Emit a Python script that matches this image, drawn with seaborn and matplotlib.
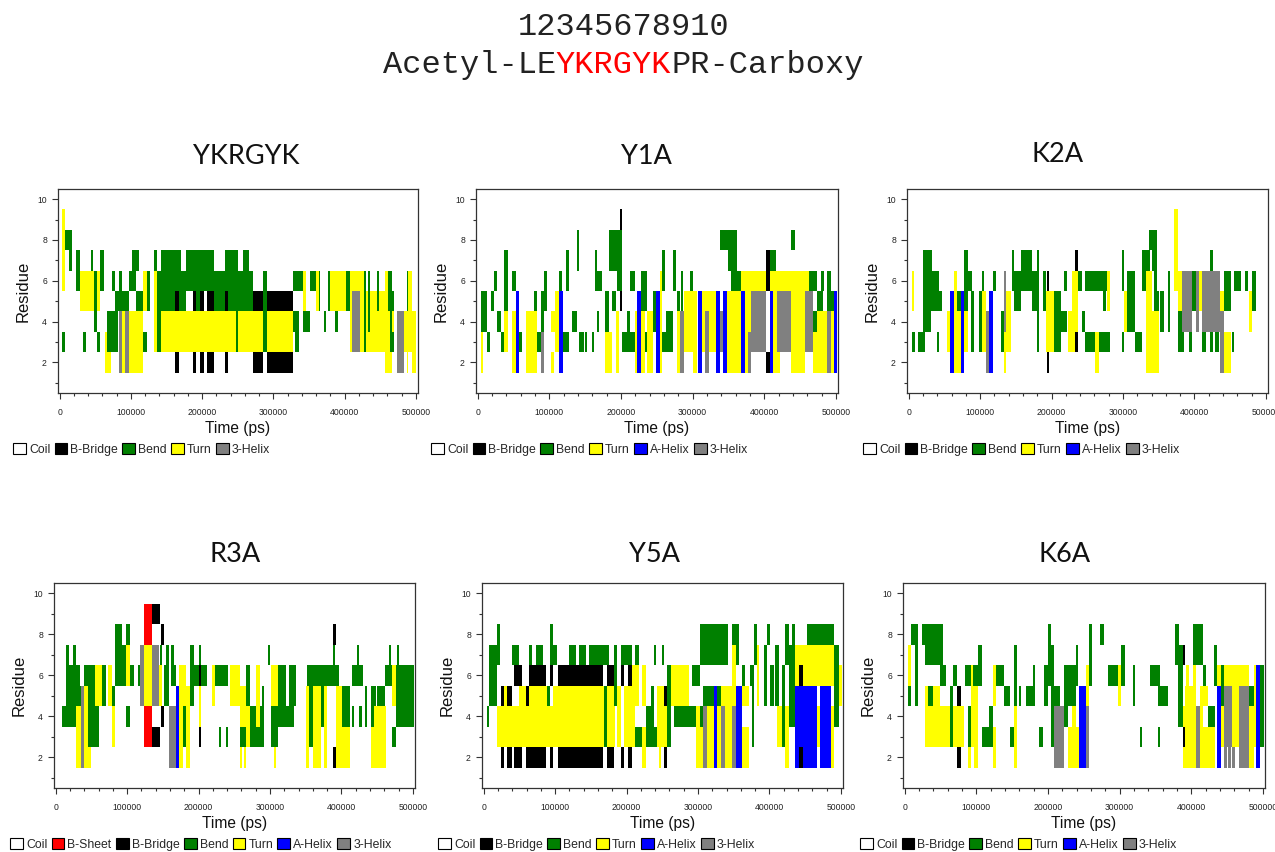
import numpy as np
import matplotlib
matplotlib.use("Agg")
import matplotlib.pyplot as plt
from matplotlib.colors import ListedColormap
from matplotlib.patches import Patch
from matplotlib.ticker import FixedLocator, NullFormatter
import seaborn as sns

# DSSP secondary-structure states, their one-letter codes and colours
STATES = ["Coil", "B-Sheet", "B-Bridge", "Bend", "Turn", "A-Helix", "3-Helix"]
CODES = ["C", "E", "B", "S", "T", "H", "G"]
COLORS = ["#ffffff", "#ff0000", "#000000", "#008000", "#ffff00", "#0000ff", "#808080"]

N_RES = 10
N_FRAMES = 505           # one frame per 1000 ps
X_TICKS_PS = [0, 100000, 200000, 300000, 400000, 500000]
Y_TICKS = [2, 4, 6, 8, 10]

HEADER_NUMBERS = "12345678910"
HEADER_SEQ = ["Acetyl-LE", "YKRGYK", "PR-Carboxy"]

# (residue, start [ns], end [ns], DSSP code); later entries paint over earlier ones
YKRGYK = [
    (9,3,8,"T"),(8,3,8,"T"),(7,3,8,"T"),(6,3,8,"T"),(3,3,8,"S"),
    (8,8,18,"S"),(7,13,18,"S"),(7,23,28,"S"),(6,23,28,"S"),
    (6,28,48,"T"),(5,28,48,"T"),(6,48,53,"S"),(5,48,53,"S"),(4,48,53,"S"),
    (6,53,57,"T"),(5,53,57,"T"),(3,33,37,"S"),(7,44,47,"S"),(3,53,57,"S"),
    (7,57,62,"S"),(6,57,62,"S"),(3,63,72,"T"),(2,63,72,"T"),
    (4,67,82,"S"),(3,67,82,"S"),(6,73,78,"S"),(6,84,88,"S"),(5,78,98,"S"),
    (4,84,88,"G"),(3,84,88,"G"),(2,84,88,"G"),
    (4,88,92,"T"),(3,88,92,"T"),(2,88,92,"T"),
    (4,92,97,"G"),(3,92,97,"G"),(2,92,97,"G"),
    (4,97,117,"T"),(3,97,117,"T"),(2,97,117,"T"),
    (6,98,107,"S"),(7,101,112,"S"),(5,107,117,"S"),
    (6,117,122,"T"),(5,117,122,"T"),(3,117,122,"S"),(6,123,127,"S"),(5,123,127,"S"),
    (7,133,136,"S"),(6,133,136,"T"),(5,133,136,"T"),(4,133,136,"T"),(3,133,136,"T"),
    (6,136,142,"S"),(5,136,142,"S"),(4,136,142,"S"),(3,136,142,"S"),
    (4,142,327,"T"),(3,142,327,"T"),(4,247,251,"S"),(3,247,251,"S"),
    (6,136,272,"S"),(7,142,171,"S"),(7,177,216,"S"),(7,232,251,"S"),(7,257,266,"S"),
    (5,142,162,"S"),(5,162,167,"B"),(5,167,177,"S"),
    (5,187,192,"B"),(5,192,197,"S"),(5,197,202,"B"),(5,207,216,"B"),
    (5,216,232,"S"),(5,232,237,"B"),(5,237,272,"S"),(5,272,327,"B"),
    (6,286,291,"S"),(5,286,291,"S"),(4,286,291,"S"),(3,286,291,"S"),
    (2,162,167,"B"),(2,187,192,"B"),(2,197,202,"B"),(2,207,216,"B"),(2,232,237,"B"),
    (2,272,286,"B"),(2,291,327,"B"),
    (6,327,341,"S"),(4,327,336,"S"),(3,331,336,"S"),
    (6,342,346,"T"),(5,342,346,"T"),(4,342,351,"S"),(6,351,360,"S"),
    (6,360,364,"T"),(5,360,364,"T"),(6,364,366,"S"),(5,364,366,"S"),(4,371,374,"S"),
    (6,376,380,"S"),(5,376,380,"S"),(6,380,402,"T"),(5,380,402,"T"),(4,387,391,"S"),
    (6,402,407,"S"),(5,402,407,"S"),
    (6,407,421,"T"),(5,407,410,"T"),(4,407,410,"T"),(3,407,410,"T"),
    (5,410,421,"G"),(4,410,421,"G"),(3,410,421,"G"),
    (5,421,470,"T"),(4,421,470,"T"),(3,421,470,"T"),(6,421,430,"T"),
    (6,427,430,"S"),(5,427,430,"S"),(4,427,430,"S"),(3,427,430,"S"),
    (6,433,436,"S"),(5,433,436,"S"),(4,433,436,"S"),(6,445,448,"S"),(5,445,448,"S"),
    (6,456,461,"T"),(2,456,467,"T"),
    (6,461,467,"S"),(5,461,470,"S"),(4,464,467,"S"),(3,464,470,"S"),
    (4,474,484,"G"),(3,474,484,"G"),(2,474,484,"G"),
    (4,484,500,"T"),(3,484,500,"T"),(2,487,489,"T"),(2,495,500,"T"),
    (6,487,489,"S"),(5,487,489,"S"),(6,489,495,"T"),(5,489,495,"T"),
]

Y1A = [
    (5,4,13,"S"),(4,4,13,"S"),(3,4,7,"T"),(2,4,7,"T"),(3,13,17,"S"),
    (5,18,23,"S"),(6,23,27,"S"),(4,27,33,"S"),(3,33,37,"S"),
    (7,37,42,"S"),(6,37,42,"S"),(5,37,42,"S"),(4,37,42,"T"),(3,37,42,"T"),
    (6,48,53,"S"),(4,48,53,"T"),(3,48,53,"T"),(2,48,53,"T"),
    (5,53,58,"H"),(4,53,58,"H"),(3,53,58,"H"),(2,53,58,"H"),(3,58,62,"S"),
    (4,68,83,"T"),(3,68,83,"T"),(2,68,83,"T"),(5,78,83,"S"),(3,83,88,"S"),
    (5,88,93,"S"),(4,88,93,"S"),(3,88,93,"G"),(2,88,93,"G"),
    (6,93,97,"S"),(5,93,97,"S"),
    (4,103,108,"T"),(2,103,106,"T"),(5,108,114,"T"),(4,108,114,"T"),(3,108,114,"T"),
    (5,114,119,"H"),(4,114,119,"H"),(3,114,119,"H"),(2,114,119,"H"),(6,114,118,"S"),
    (3,119,128,"S"),(7,123,128,"S"),(6,123,128,"S"),(4,132,139,"S"),
    (8,139,142,"S"),(7,139,142,"S"),(3,142,148,"S"),(3,150,153,"S"),(3,159,163,"S"),
    (7,164,167,"S"),(6,164,173,"S"),(4,167,170,"S"),
    (5,178,183,"S"),(4,178,183,"S"),(3,178,187,"T"),(2,178,187,"T"),
    (8,183,199,"S"),(7,183,199,"S"),(6,195,199,"S"),(5,188,193,"S"),
    (4,193,198,"T"),(3,193,198,"T"),(2,193,198,"T"),
    (9,199,202,"B"),(5,199,202,"B"),(8,199,202,"S"),(7,199,202,"S"),(6,199,202,"S"),
    (3,202,219,"S"),(4,209,212,"S"),(6,213,219,"S"),
    (4,219,222,"T"),(3,219,222,"T"),(2,219,222,"T"),
    (5,222,228,"H"),(4,222,228,"H"),(3,222,228,"H"),(2,222,228,"H"),
    (6,228,237,"S"),(5,228,237,"S"),(4,228,234,"T"),(3,228,234,"T"),(2,228,234,"T"),
    (3,234,237,"S"),(4,237,245,"T"),(3,237,245,"T"),(2,237,245,"T"),
    (5,245,249,"S"),(4,245,249,"S"),
    (5,249,254,"H"),(4,249,254,"H"),(3,249,254,"H"),(2,249,254,"H"),
    (6,254,258,"T"),(5,254,258,"T"),(4,254,258,"T"),(3,254,258,"T"),(2,254,258,"T"),
    (7,258,262,"S"),(6,258,262,"S"),(3,258,263,"S"),(4,263,272,"S"),(3,263,272,"S"),
    (7,272,277,"S"),(6,272,277,"S"),
    (4,278,283,"T"),(3,278,283,"T"),(2,278,283,"T"),(5,278,283,"S"),
    (4,283,288,"G"),(3,283,288,"G"),(2,283,288,"G"),(6,284,287,"S"),(5,284,287,"S"),
    (5,288,300,"T"),(4,288,300,"T"),(3,288,300,"T"),(6,296,300,"S"),
    (5,300,306,"T"),(4,300,306,"T"),(3,300,306,"T"),(2,300,306,"T"),
    (5,307,313,"H"),(4,307,313,"H"),(3,307,313,"H"),(2,307,313,"H"),
    (5,313,333,"T"),(4,313,333,"T"),(3,313,333,"T"),
    (4,318,323,"G"),(3,318,323,"G"),(2,318,323,"G"),
    (5,333,338,"H"),(4,333,338,"H"),(3,333,338,"H"),(2,333,338,"H"),
    (4,338,342,"G"),(3,338,342,"G"),
    (5,342,348,"H"),(4,342,348,"H"),(3,342,348,"H"),(2,342,348,"H"),
    (8,338,362,"S"),(7,350,362,"S"),
    (5,348,368,"T"),(4,348,368,"T"),(3,348,368,"T"),(2,348,368,"T"),(6,353,368,"S"),
    (5,368,373,"H"),(4,368,373,"H"),(3,368,373,"H"),(2,368,373,"H"),
    (6,368,463,"T"),
    (5,373,382,"T"),(4,373,382,"T"),(3,373,382,"T"),(2,373,382,"T"),
    (3,377,382,"G"),(2,377,382,"G"),
    (5,382,403,"G"),(4,382,403,"G"),(3,382,403,"G"),
    (7,403,408,"B"),(6,403,408,"B"),(2,403,408,"B"),(7,408,416,"S"),
    (5,408,412,"H"),(4,408,412,"H"),(3,408,412,"H"),(2,408,412,"H"),
    (5,412,418,"T"),(4,412,418,"T"),(3,412,418,"T"),(2,412,422,"T"),
    (5,418,438,"G"),(4,418,438,"G"),(3,418,438,"G"),(8,438,443,"S"),
    (5,438,457,"T"),(4,438,457,"T"),(3,438,457,"T"),(2,438,457,"T"),
    (5,457,468,"G"),(4,457,468,"G"),(3,457,468,"G"),(6,463,473,"S"),
    (4,468,473,"S"),(3,468,473,"T"),(2,468,473,"T"),
    (4,473,487,"T"),(3,473,487,"T"),(2,473,487,"T"),(5,473,482,"S"),(6,479,483,"S"),
    (4,487,493,"G"),(3,487,493,"G"),(2,487,493,"G"),(6,487,493,"S"),(5,487,493,"S"),
    (4,493,498,"T"),(3,493,498,"T"),(2,493,498,"T"),(5,493,498,"S"),
    (5,498,502,"H"),(4,498,502,"H"),(3,498,502,"H"),(2,498,502,"H"),
]

K2A = [
    (6,4,8,"T"),(5,4,8,"T"),(3,4,9,"S"),(3,13,23,"S"),
    (7,20,32,"S"),(6,20,43,"S"),(5,20,43,"S"),(4,20,31,"S"),(3,39,43,"S"),(5,43,47,"S"),
    (4,54,58,"T"),(3,54,58,"T"),
    (5,58,63,"H"),(4,58,63,"H"),(3,58,63,"H"),(2,58,63,"H"),
    (6,63,67,"T"),(5,63,67,"T"),(4,63,67,"T"),(3,63,67,"T"),(2,63,67,"T"),
    (4,67,73,"T"),(3,67,73,"T"),(2,67,73,"T"),(5,68,73,"S"),
    (5,73,78,"H"),(4,73,78,"H"),(3,73,78,"H"),(2,73,78,"H"),
    (7,78,83,"S"),(6,78,88,"S"),(5,78,83,"S"),(4,78,83,"T"),(3,78,83,"T"),
    (5,87,92,"S"),(4,87,92,"S"),(3,87,92,"S"),
    (5,98,102,"S"),(4,98,102,"S"),(3,98,102,"S"),
    (6,102,106,"S"),(5,102,108,"T"),(4,102,108,"T"),(3,102,108,"T"),
    (4,108,112,"G"),(3,108,112,"G"),(2,108,112,"G"),
    (5,112,118,"H"),(4,112,118,"H"),(3,112,118,"H"),(2,112,118,"H"),
    (6,118,122,"S"),(4,129,133,"S"),(3,129,133,"S"),
    (6,133,136,"G"),(5,133,136,"G"),(4,133,136,"G"),(3,133,136,"T"),(2,133,136,"T"),
    (5,136,143,"T"),(4,136,143,"T"),(3,136,143,"T"),
    (7,144,147,"S"),(6,144,147,"S"),(6,147,157,"S"),(5,147,157,"S"),
    (7,157,172,"S"),(6,157,172,"S"),(6,172,179,"S"),(5,172,179,"S"),
    (7,179,182,"S"),(6,179,182,"S"),(5,179,182,"S"),(4,179,182,"S"),(3,179,182,"S"),
    (6,188,192,"S"),(5,188,192,"S"),
    (5,192,203,"T"),(4,192,203,"T"),(3,192,203,"T"),(6,193,197,"B"),(2,193,197,"B"),
    (5,203,213,"S"),(4,203,213,"S"),(3,203,213,"S"),(4,213,222,"S"),(6,217,222,"S"),
    (4,223,233,"T"),(3,223,233,"T"),(6,228,233,"T"),(5,228,233,"T"),
    (7,233,237,"B"),(3,233,237,"B"),(6,233,237,"T"),(5,233,237,"T"),(4,233,237,"T"),
    (6,237,242,"S"),(4,243,247,"S"),(3,247,261,"S"),(6,247,277,"S"),
    (3,261,267,"T"),(2,261,267,"T"),(3,267,282,"S"),(5,272,276,"S"),
    (6,278,282,"T"),(5,278,282,"T"),
    (7,298,302,"S"),(6,298,302,"S"),(3,298,302,"S"),(5,302,306,"T"),(4,302,306,"T"),
    (6,306,317,"S"),(5,306,317,"S"),(4,306,317,"S"),(3,317,327,"S"),
    (7,327,338,"S"),(6,327,332,"S"),
    (6,332,340,"T"),(5,332,341,"T"),(4,332,341,"T"),(3,332,341,"T"),(2,332,341,"T"),
    (8,337,347,"S"),(7,340,347,"S"),
    (4,341,351,"T"),(3,341,351,"T"),(2,341,351,"T"),(5,343,351,"S"),(6,343,347,"S"),
    (5,352,357,"S"),(4,352,357,"S"),(6,363,366,"S"),(5,363,366,"S"),(4,363,366,"S"),
    (9,372,377,"T"),(8,372,377,"T"),(7,372,377,"T"),(6,372,377,"T"),
    (6,377,382,"T"),(5,377,382,"T"),(4,377,386,"S"),(3,377,386,"S"),
    (6,382,396,"G"),(5,382,396,"G"),(4,382,396,"G"),(3,392,396,"S"),
    (6,396,402,"S"),(5,396,402,"S"),
    (6,402,407,"G"),(5,402,407,"G"),(4,402,407,"G"),(6,407,411,"T"),(5,407,411,"T"),
    (6,411,436,"G"),(5,411,436,"G"),(4,411,436,"G"),
    (7,422,426,"S"),(3,411,416,"S"),(3,422,426,"S"),(3,429,434,"S"),
    (5,436,442,"T"),(4,436,442,"G"),(3,436,442,"G"),(2,436,442,"G"),
    (6,442,451,"S"),(5,442,451,"S"),(3,442,451,"T"),(2,442,451,"T"),
    (3,452,455,"S"),(6,456,465,"S"),(6,471,475,"S"),
    (5,477,481,"T"),(4,477,481,"T"),(6,481,486,"S"),(5,481,486,"S"),
]

R3A = [
    (4,9,14,"S"),
    (7,14,19,"S"),(6,14,19,"S"),(5,14,19,"S"),(4,14,19,"S"),
    (6,19,24,"S"),(5,19,24,"S"),(4,19,24,"S"),
    (7,24,29,"S"),(6,24,34,"S"),(5,24,29,"S"),(4,24,29,"S"),
    (5,29,35,"S"),(4,29,35,"T"),(3,29,35,"T"),(2,29,35,"T"),
    (5,35,39,"G"),(4,35,39,"G"),(3,35,39,"G"),(2,35,39,"G"),
    (5,39,45,"T"),(4,39,45,"T"),(3,39,45,"T"),(2,39,45,"T"),(6,39,45,"S"),
    (6,45,55,"S"),(5,45,55,"S"),(4,45,55,"S"),(3,45,55,"S"),(2,45,50,"T"),
    (6,55,65,"T"),(5,55,65,"T"),(4,55,60,"S"),(3,55,60,"S"),
    (6,65,70,"S"),(5,65,70,"S"),(6,73,79,"T"),(5,73,79,"T"),
    (5,79,83,"S"),(4,79,83,"T"),(3,79,83,"T"),
    (8,83,93,"S"),(7,83,93,"S"),(6,83,93,"S"),(7,93,99,"S"),(6,93,99,"S"),
    (8,99,104,"S"),(7,99,104,"T"),(6,99,104,"T"),(4,99,104,"S"),(6,104,109,"S"),
    (6,115,118,"S"),(7,118,124,"G"),(6,118,124,"G"),(5,118,124,"G"),
    (9,124,135,"E"),(8,124,135,"E"),(4,124,135,"E"),(3,124,135,"E"),
    (7,124,135,"T"),(6,124,135,"T"),(5,124,135,"T"),
    (7,135,144,"G"),(6,135,144,"G"),(5,135,144,"G"),(9,135,146,"B"),(3,135,146,"B"),
    (6,144,149,"T"),(5,144,149,"T"),(7,146,149,"S"),(8,148,151,"B"),(4,148,151,"B"),
    (6,151,159,"S"),(5,151,159,"S"),(7,155,158,"S"),
    (4,159,168,"G"),(3,159,168,"G"),(2,159,168,"G"),(7,162,166,"S"),(6,162,168,"S"),
    (5,168,172,"H"),(4,168,172,"H"),(3,168,172,"H"),(2,168,172,"H"),
    (6,172,178,"T"),(5,172,178,"T"),(4,172,178,"T"),(3,172,178,"T"),(2,172,178,"T"),
    (4,178,183,"S"),(3,178,183,"S"),(6,178,183,"T"),(5,178,183,"T"),
    (5,183,188,"T"),(4,183,188,"T"),(3,183,188,"T"),(2,183,188,"T"),
    (7,188,194,"S"),(6,188,194,"S"),(5,188,194,"S"),(6,194,200,"S"),
    (6,200,204,"B"),(3,200,204,"B"),(7,200,204,"S"),(5,200,204,"T"),(4,200,204,"T"),
    (6,204,212,"S"),(6,219,223,"T"),(5,219,223,"T"),(6,223,241,"S"),
    (3,228,232,"S"),(3,238,241,"S"),(6,244,258,"T"),(5,244,258,"T"),
    (5,258,267,"T"),(4,258,267,"T"),(3,258,267,"S"),(2,258,261,"T"),(2,264,267,"T"),
    (6,267,272,"S"),(5,267,272,"S"),(4,267,272,"T"),(3,267,272,"T"),
    (4,272,292,"S"),(3,272,292,"S"),(6,281,286,"T"),(5,281,286,"T"),(4,281,286,"T"),
    (5,289,292,"S"),(7,297,300,"S"),
    (6,302,311,"T"),(5,302,311,"T"),(4,302,311,"S"),(3,302,311,"S"),(2,306,309,"T"),
    (6,311,322,"S"),(5,311,322,"S"),(4,311,334,"S"),(6,327,336,"S"),(5,327,336,"S"),
    (5,350,355,"T"),(4,350,355,"T"),(3,350,355,"T"),(2,350,355,"T"),(6,352,380,"S"),
    (5,355,360,"S"),(4,355,360,"S"),(3,355,360,"S"),
    (5,360,371,"T"),(4,360,371,"T"),(3,360,371,"T"),(2,360,371,"T"),
    (5,371,376,"S"),(4,371,376,"S"),
    (5,376,380,"T"),(4,376,380,"T"),(3,376,380,"T"),(2,376,380,"T"),
    (6,380,397,"S"),(7,388,391,"S"),(8,388,392,"B"),(2,388,392,"B"),
    (5,392,401,"T"),(4,392,401,"T"),(3,392,412,"T"),(2,392,412,"T"),
    (5,401,412,"S"),(4,401,412,"S"),(6,415,430,"S"),(4,415,418,"S"),(7,422,425,"S"),
    (4,425,429,"S"),(5,433,436,"S"),(4,433,436,"S"),
    (5,441,448,"S"),(4,441,445,"S"),(4,445,462,"T"),(3,441,462,"T"),(2,441,462,"T"),
    (5,450,461,"S"),(6,461,471,"S"),(6,471,476,"T"),(5,471,476,"T"),(3,471,476,"S"),
    (6,476,502,"S"),(5,476,502,"S"),(4,476,502,"S"),(7,466,469,"S"),(7,478,480,"S"),
]

Y5A = [
    (4,4,7,"S"),(7,7,18,"S"),(6,7,18,"S"),(5,7,18,"S"),(8,18,23,"S"),(7,18,23,"S"),
    (4,19,169,"T"),(3,19,169,"T"),
    (5,24,29,"B"),(2,24,29,"B"),(5,29,33,"T"),(5,33,39,"B"),(2,33,39,"B"),
    (7,39,49,"S"),(6,43,53,"B"),(2,43,53,"B"),(5,49,59,"T"),
    (5,59,63,"B"),(2,59,87,"B"),(6,63,87,"B"),(5,63,88,"T"),(7,63,67,"S"),(7,73,83,"S"),
    (5,89,93,"S"),(8,93,97,"S"),(7,93,102,"S"),(6,93,97,"B"),(2,93,97,"B"),(5,97,103,"T"),
    (5,103,168,"T"),(6,104,167,"B"),(2,104,167,"B"),
    (7,119,129,"S"),(7,133,143,"S"),(7,148,157,"S"),(7,157,176,"S"),
    (5,169,173,"S"),(4,169,173,"S"),(3,169,173,"S"),
    (5,173,184,"T"),(4,173,184,"T"),(3,173,184,"T"),(6,173,183,"B"),(2,173,183,"B"),
    (7,183,187,"S"),(6,183,187,"S"),(5,183,187,"S"),
    (5,187,192,"T"),(4,187,192,"T"),(3,187,192,"T"),(6,192,197,"B"),(2,192,197,"B"),
    (7,192,208,"S"),(5,197,208,"T"),(4,197,208,"T"),(3,197,208,"T"),
    (6,202,208,"B"),(2,202,208,"B"),
    (6,208,218,"T"),(5,208,218,"T"),(4,208,212,"T"),(3,208,212,"T"),(7,212,218,"S"),
    (3,212,222,"S"),(6,222,227,"T"),(5,222,227,"T"),(3,222,227,"T"),(2,222,227,"T"),
    (4,227,238,"S"),(3,227,243,"S"),(5,234,239,"S"),(7,238,241,"S"),
    (5,243,253,"T"),(4,243,253,"T"),(3,243,253,"T"),(2,245,248,"T"),(7,249,253,"S"),
    (5,253,257,"B"),(2,253,257,"B"),(4,253,257,"T"),(3,253,257,"T"),
    (6,257,262,"S"),(5,257,262,"S"),(4,257,262,"S"),(3,257,262,"S"),
    (6,262,287,"T"),(5,262,287,"T"),(4,267,297,"S"),(6,292,303,"S"),
    (4,297,303,"T"),(3,297,303,"T"),(2,297,303,"T"),
    (8,303,342,"S"),(7,303,342,"S"),(4,303,307,"S"),(3,303,307,"T"),(2,303,307,"T"),
    (4,307,312,"G"),(3,307,312,"G"),(2,307,312,"G"),(5,307,322,"S"),
    (4,312,322,"T"),(3,312,322,"T"),(2,312,322,"T"),
    (5,322,327,"H"),(4,322,327,"H"),(3,322,327,"H"),(2,322,327,"H"),
    (4,327,332,"T"),(3,327,332,"T"),(2,327,332,"T"),(5,327,332,"S"),
    (4,332,338,"G"),(3,332,338,"G"),(2,332,338,"G"),(5,332,338,"T"),
    (5,338,348,"T"),(4,338,348,"T"),(3,338,348,"T"),(2,338,348,"T"),
    (4,348,353,"G"),(3,348,353,"G"),(2,348,353,"G"),(7,348,353,"T"),(6,348,353,"T"),
    (5,348,353,"T"),(8,348,357,"S"),(7,353,357,"S"),
    (5,353,362,"H"),(4,353,362,"H"),(3,353,362,"H"),(2,353,362,"H"),
    (6,362,366,"S"),(5,362,372,"T"),(3,362,372,"T"),(2,362,372,"T"),
    (6,373,378,"S"),(5,376,378,"S"),(4,376,378,"S"),(3,376,378,"S"),
    (8,379,382,"S"),(7,379,382,"S"),(7,382,385,"T"),(6,382,385,"T"),(5,382,385,"T"),
    (7,392,397,"S"),(6,392,397,"S"),(5,392,397,"S"),(8,397,401,"S"),
    (6,401,406,"S"),(5,401,406,"S"),(7,408,413,"S"),(6,408,413,"S"),(5,408,413,"S"),
    (4,410,417,"T"),(3,410,417,"T"),
    (6,417,422,"S"),(5,417,422,"S"),(4,417,422,"S"),(3,417,422,"S"),
    (4,422,427,"T"),(3,422,427,"T"),(2,422,427,"T"),(8,422,427,"S"),(7,422,427,"S"),
    (7,427,436,"S"),(6,427,436,"S"),(5,427,436,"S"),(4,427,436,"S"),(8,431,436,"S"),
    (7,436,452,"T"),(6,436,452,"T"),
    (5,436,441,"H"),(4,436,441,"H"),(3,436,441,"H"),(2,436,441,"H"),
    (6,441,447,"B"),(2,441,447,"B"),(5,441,447,"H"),(4,441,447,"H"),(3,441,447,"H"),
    (5,447,466,"H"),(4,447,466,"H"),(3,447,466,"H"),(2,447,466,"H"),
    (8,452,491,"S"),(7,452,491,"T"),(6,452,491,"T"),(4,466,471,"T"),(3,466,471,"T"),
    (5,471,486,"H"),(4,471,486,"H"),(3,471,486,"H"),(2,471,486,"H"),
    (4,486,491,"T"),(3,486,491,"T"),(2,486,491,"T"),
    (7,491,497,"S"),(6,491,497,"S"),(5,491,497,"S"),(4,491,497,"S"),
    (6,497,502,"T"),(5,497,502,"T"),
]

K6A = [
    (7,5,9,"T"),(6,5,9,"T"),(5,5,9,"S"),
    (8,9,19,"S"),(7,14,19,"S"),(6,14,19,"S"),(5,14,19,"S"),(8,24,54,"S"),(7,29,54,"S"),
    (5,29,33,"T"),(4,29,33,"T"),(3,29,33,"T"),(5,33,39,"S"),(4,33,39,"T"),(3,33,39,"T"),
    (5,39,49,"T"),(4,39,49,"T"),(3,39,49,"T"),(6,49,58,"S"),(4,49,64,"T"),(3,49,64,"T"),
    (5,64,68,"S"),(4,64,68,"S"),(3,64,68,"S"),(6,68,73,"S"),(4,68,73,"T"),(3,68,73,"T"),
    (5,73,79,"B"),(2,73,79,"B"),(4,73,83,"T"),(3,73,83,"T"),(6,84,99,"S"),
    (4,89,93,"S"),(3,89,93,"S"),(2,89,93,"T"),
    (6,93,96,"T"),(5,93,103,"T"),(4,93,103,"T"),(3,93,103,"T"),(2,97,103,"T"),
    (6,99,108,"S"),(7,103,108,"S"),(3,108,124,"S"),(4,118,124,"S"),
    (6,124,128,"T"),(5,124,128,"T"),(3,124,128,"T"),(2,124,128,"T"),
    (6,128,138,"S"),(5,138,147,"S"),(3,147,153,"S"),
    (4,153,157,"T"),(3,153,157,"T"),(2,153,157,"T"),(7,153,157,"S"),(6,153,157,"S"),
    (5,153,157,"S"),(5,159,163,"S"),(5,169,182,"S"),(6,179,182,"S"),(3,188,193,"S"),
    (6,194,200,"S"),(5,194,200,"S"),(8,200,204,"S"),(7,200,204,"S"),(6,200,204,"S"),
    (7,204,208,"S"),(6,204,208,"S"),(5,204,208,"S"),(4,204,208,"S"),(3,204,208,"S"),
    (4,208,223,"G"),(3,208,223,"G"),(2,208,223,"G"),(5,208,217,"S"),
    (6,223,239,"S"),(5,223,239,"S"),(4,223,228,"S"),
    (3,228,243,"T"),(2,228,243,"T"),(4,233,239,"T"),(7,239,242,"S"),(6,239,242,"S"),
    (5,243,253,"H"),(4,243,253,"H"),(3,243,253,"H"),(2,243,253,"H"),
    (6,253,257,"T"),(5,253,257,"T"),(4,253,257,"G"),(3,253,257,"G"),(2,253,257,"G"),
    (8,257,262,"S"),(7,257,262,"S"),(6,257,262,"S"),(8,273,278,"S"),(6,284,298,"S"),
    (6,298,302,"T"),(5,298,302,"T"),(7,302,308,"S"),(6,302,308,"S"),
    (6,319,322,"S"),(5,319,322,"S"),(3,328,331,"S"),
    (6,342,357,"S"),(5,353,367,"S"),(3,354,357,"S"),(8,377,383,"S"),(7,377,383,"S"),
    (7,381,388,"S"),(6,381,388,"S"),(5,381,388,"S"),(4,381,388,"S"),
    (7,388,392,"B"),(3,388,392,"B"),(4,388,392,"T"),(2,388,392,"T"),
    (5,392,402,"T"),(4,392,402,"T"),(3,392,402,"T"),(2,392,402,"T"),(6,393,397,"T"),
    (8,402,417,"S"),(7,402,417,"S"),
    (5,402,407,"T"),(4,402,407,"T"),(3,402,407,"T"),(2,402,407,"T"),(6,403,407,"T"),
    (4,407,412,"G"),(3,407,412,"G"),(2,407,412,"G"),
    (5,412,423,"T"),(4,412,417,"T"),(3,412,423,"T"),(2,412,423,"T"),(6,417,420,"S"),
    (4,423,433,"S"),(3,423,433,"T"),(2,423,433,"T"),(6,432,436,"S"),(7,432,436,"S"),
    (5,436,442,"H"),(4,436,442,"H"),(3,436,442,"H"),(2,436,442,"H"),(6,436,442,"T"),
    (6,442,446,"S"),(5,442,446,"S"),(4,442,446,"T"),(3,442,446,"T"),
    (5,446,457,"G"),(4,446,457,"G"),(3,446,457,"G"),(2,446,450,"G"),(2,452,456,"G"),
    (6,446,481,"T"),
    (5,457,467,"T"),(4,457,467,"T"),(3,457,467,"T"),(2,457,461,"G"),
    (5,467,481,"G"),(4,467,481,"G"),(3,467,481,"G"),(2,467,481,"G"),
    (5,481,487,"S"),(4,481,487,"T"),(3,481,487,"T"),(2,481,487,"T"),
    (6,487,491,"T"),(5,487,491,"T"),(4,487,491,"T"),(3,487,491,"T"),
    (6,491,496,"H"),(5,491,496,"H"),(4,491,496,"H"),(3,491,496,"H"),(2,491,496,"H"),
    (6,496,502,"S"),(5,496,502,"S"),(4,496,502,"S"),(3,496,502,"S"),
]

LEGEND_BASIC = ["Coil", "B-Bridge", "Bend", "Turn", "3-Helix"]
LEGEND_HELIX = ["Coil", "B-Bridge", "Bend", "Turn", "A-Helix", "3-Helix"]
LEGEND_FULL = ["Coil", "B-Sheet", "B-Bridge", "Bend", "Turn", "A-Helix", "3-Helix"]

W, H = 1275, 852
# name, segments, legend entries, axes box (left, top, right, bottom) px, title centre px, legend origin px
PANELS = [
    ("YKRGYK", YKRGYK, LEGEND_BASIC, (58, 189, 418, 393), (246, 156), (13, 443)),
    ("Y1A", Y1A, LEGEND_HELIX, (476, 189, 838, 393), (646, 157), (431, 443)),
    ("K2A", K2A, LEGEND_HELIX, (907, 189, 1268, 393), (1058, 155), (863, 443)),
    ("R3A", R3A, LEGEND_FULL, (54, 583, 415, 788), (235, 555), (10, 838)),
    ("Y5A", Y5A, LEGEND_HELIX, (482, 583, 843, 788), (655, 555), (438, 838)),
    ("K6A", K6A, LEGEND_HELIX, (903, 583, 1265, 788), (1065, 555), (860, 838)),
]


def build_grid(segments):
    grid = np.zeros((N_RES, N_FRAMES), dtype=int)
    for res, t0, t1, code in segments:
        grid[res - 1, t0:t1] = CODES.index(code)
    return grid


sns.set_theme(style="ticks")
plt.rcParams["font.family"] = ["Liberation Sans", "DejaVu Sans"]

fig = plt.figure(figsize=(W / 100, H / 100), dpi=100)
fig.patch.set_facecolor("white")
cmap = ListedColormap(COLORS)

for name, segs, legend_names, (l, t, r, b), (tx, ty), (lx, ly) in PANELS:
    ax = fig.add_axes([l / W, 1 - b / H, (r - l) / W, (b - t) / H])
    grid = build_grid(segs)
    sns.heatmap(grid, ax=ax, cmap=cmap, vmin=-0.5, vmax=len(CODES) - 0.5,
                cbar=False, xticklabels=False, yticklabels=False, rasterized=True)
    ax.set_xlim(-2.3, 503)
    ax.set_ylim(0, N_RES)
    for sp in ax.spines.values():
        sp.set_visible(True)
        sp.set_color("#333333")
        sp.set_linewidth(0.9)

    ax.xaxis.set_major_locator(FixedLocator([v / 1000 for v in X_TICKS_PS]))
    ax.set_xticklabels([str(v) for v in X_TICKS_PS])
    ax.xaxis.set_minor_locator(FixedLocator(np.arange(0, 501, 20)))
    ax.yaxis.set_major_locator(FixedLocator([v - 0.5 for v in Y_TICKS]))
    ax.set_yticklabels([str(v) for v in Y_TICKS])
    ax.yaxis.set_minor_locator(FixedLocator([v - 0.5 for v in range(1, 10, 2)]))
    ax.xaxis.set_minor_formatter(NullFormatter())
    ax.tick_params(which="both", direction="out", color="#333333", width=0.8,
                   labelsize=6.2, labelcolor="#222222", bottom=True, left=True,
                   top=False, right=False)
    ax.tick_params(which="major", length=4)
    ax.tick_params(which="minor", length=2.5)
    ax.tick_params(axis="x", which="major", pad=6.5)
    ax.tick_params(axis="y", which="major", pad=4)
    for lab in ax.get_yticklabels():
        lab.set_rotation(0)
    for lab in ax.get_xticklabels():
        lab.set_rotation(0)

    ax.set_xlabel("Time (ps)", fontsize=11.2, color="#111111", labelpad=3)
    ax.set_ylabel("Residue", fontsize=12, color="#111111", labelpad=5)

    handles = [Patch(facecolor=COLORS[STATES.index(n)], edgecolor="black",
                     linewidth=0.8, label=n) for n in legend_names]
    ax.legend(handles=handles, loc="upper left", ncol=len(handles),
              bbox_to_anchor=(lx / W, 1 - ly / H), bbox_transform=fig.transFigure,
              frameon=False, borderpad=0, borderaxespad=0, fontsize=8.8,
              handlelength=1.05, handleheight=1.05, handletextpad=0.25,
              columnspacing=0.35)

    fig.text(tx / W, 1 - ty / H, name, ha="center", va="center",
             fontsize=19.5, family=["Lato", "DejaVu Sans"], color="#111111")

# peptide sequence header, residue numbers above their letters
char_w = 19.2
x0 = 383
fig.text((x0 + 7 * char_w) / W, 1 - 35 / H, HEADER_NUMBERS, ha="left", va="baseline",
         fontsize=23, family=["Liberation Mono", "DejaVu Sans Mono"], color="#222222")
colors_seq = ["#222222", "#ff0000", "#222222"]
offset = 0
for piece, col in zip(HEADER_SEQ, colors_seq):
    fig.text((x0 + offset * char_w) / W, 1 - 73 / H, piece, ha="left", va="baseline",
             fontsize=23, family=["Liberation Mono", "DejaVu Sans Mono"], color=col)
    offset += len(piece)

fig.savefig("out.png", dpi=100, facecolor="white")
